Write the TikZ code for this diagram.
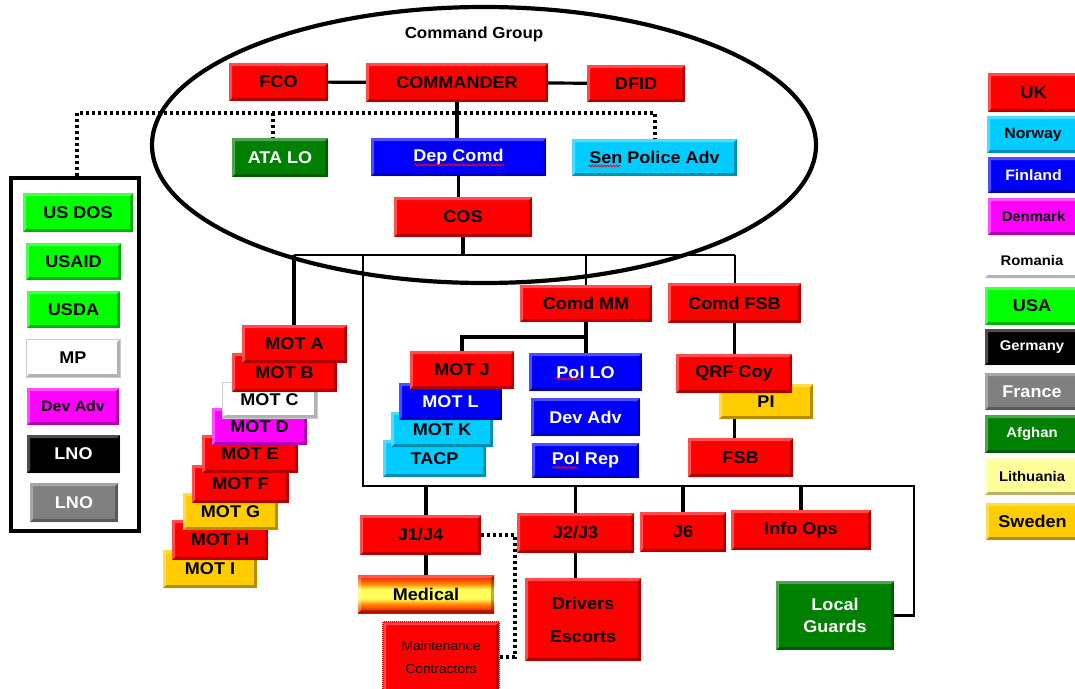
\documentclass[tikz,border=0pt]{standalone}
\usepackage{fontspec}
\setmainfont{Liberation Sans}[FakeStretch=1.06]
\usetikzlibrary{decorations.pathmorphing}
\pgfdeclarelayer{bg}
\pgfsetlayers{bg,main}
\definecolor{cred}{HTML}{FF0000}
\definecolor{cgreen}{HTML}{00FF00}
\definecolor{cdgreen}{HTML}{008000}
\definecolor{cblue}{HTML}{0000FF}
\definecolor{ccyan}{HTML}{00CCFF}
\definecolor{cmag}{HTML}{FF00FF}
\definecolor{corange}{HTML}{FFCC00}
\definecolor{clyel}{HTML}{FFFF99}
\definecolor{cgrey}{HTML}{808080}
\pgfdeclareverticalshading{medsh}{100bp}{color(0bp)=(red); color(25bp)=(red); color(36bp)=(orange); color(44bp)=(yellow!65); color(56bp)=(yellow!65); color(64bp)=(orange); color(75bp)=(red); color(100bp)=(red)}
\newcommand\obox[7]{\node[obx,#6,minimum width={(#4)-(#2)},minimum height={(#5)-(#3)}] (#1) at ({((#2)+(#4))/2},{((#3)+(#5))/2}) {#7};}
\tikzset{
  bevel/.style={path picture={
    \fill[black,opacity=.3] (path picture bounding box.south west) -- (path picture bounding box.south east) -- (path picture bounding box.north east) -- ([xshift=-3pt,yshift=-3pt]path picture bounding box.north east) -- ([xshift=-3pt,yshift=3pt]path picture bounding box.south east) -- ([xshift=3pt,yshift=3pt]path picture bounding box.south west) -- cycle;
    \fill[white,opacity=.3] (path picture bounding box.south west) -- (path picture bounding box.north west) -- (path picture bounding box.north east) -- ([xshift=-3pt,yshift=-3pt]path picture bounding box.north east) -- ([xshift=3pt,yshift=-3pt]path picture bounding box.north west) -- ([xshift=3pt,yshift=3pt]path picture bounding box.south west) -- cycle;
  }},
  obx/.style={rectangle, inner sep=0pt, outer sep=0pt, align=center, text=black, font=\bfseries\fontsize{17pt}{20pt}\selectfont, bevel},
  lf/.style={font=\bfseries\fontsize{#1pt}{#1pt}\selectfont},
  conn/.style={line width=3.2pt, black},
  bus/.style={line width=2.6pt, black},
  dotline/.style={line width=3.2pt, black, dash pattern=on 3pt off 3pt},
  squig/.style={red, line width=0.8pt, decorate, decoration={snake, segment length=3pt, amplitude=0.9pt}}
}
\begin{document}
\begin{tikzpicture}[x=1pt,y=-1pt]
\useasboundingbox (0,0) rectangle (1075,688);
% title
\node[font=\bfseries\fontsize{16pt}{18pt}\selectfont] (cgtitle) at (474,34) {Command Group};
% command group
\obox{fco}{229}{63}{328}{101}{fill=cred}{FCO}
\obox{cmdr}{366}{63}{548}{102}{fill=cred}{COMMANDER}
\obox{dfid}{587}{65}{685}{102}{fill=cred}{DFID}
\obox{atalo}{232}{138}{328}{177}{fill=cdgreen,text=white}{ATA LO}
\obox{depcomd}{371}{138}{546}{176}{fill=cblue,text=white}{Dep Comd}
\obox{senpol}{572}{139}{737}{176}{fill=ccyan}{Sen Police Adv}
\obox{cos}{394}{197}{532}{237}{fill=cred}{COS}
% left box
\node[draw, line width=3.5pt, minimum width=128pt, minimum height=353pt, inner sep=0pt] (lbox) at (75,354.5) {};
\obox{usdos}{23}{193}{133}{232}{fill=cgreen}{US DOS}
\obox{usaid}{26}{243}{121}{280}{fill=cgreen}{USAID}
\obox{usda}{27}{291}{120}{328}{fill=cgreen}{USDA}
\obox{mp}{26}{339}{120}{377}{fill=white,draw=gray!40}{MP}
\obox{devadvl}{27}{388}{119}{425}{fill=cmag,lf=15}{Dev Adv}
\obox{lnoa}{27}{435}{120}{473}{fill=black,text=white}{LNO}
\obox{lnob}{30}{483}{118}{522}{fill=cgrey,text=white}{LNO}
% MOT stack
\obox{moti}{163}{550}{257}{588}{fill=corange}{MOT I}
\obox{moth}{172}{520}{268}{560}{fill=cred}{MOT H}
\obox{motg}{183}{493}{278}{530}{fill=corange}{MOT G}
\obox{motf}{192}{465}{289}{503}{fill=cred}{MOT F}
\obox{mote}{202}{435}{298}{473}{fill=cred}{MOT E}
\obox{motd}{212}{408}{307}{445}{fill=cmag}{MOT D}
\obox{motc}{222}{382}{317}{418}{fill=white,draw=gray!40}{MOT C}
\obox{motb}{232}{353}{337}{392}{fill=cred}{MOT B}
\obox{mota}{242}{325}{347}{363}{fill=cred}{MOT A}
% centre
\obox{comdmm}{520}{285}{652}{322}{fill=cred}{Comd MM}
\obox{comdfsb}{668}{283}{801}{323}{fill=cred}{Comd FSB}
\obox{tacp}{383}{440}{486}{477}{fill=ccyan}{TACP}
\obox{motk}{391}{412}{493}{447}{fill=ccyan}{MOT K}
\obox{motl}{399}{383}{502}{420}{fill=cblue,text=white}{MOT L}
\obox{motj}{410}{351}{514}{389}{fill=cred}{MOT J}
\obox{pollo}{529}{353}{642}{391}{fill=cblue,text=white}{Pol LO}
\obox{devadvc}{531}{398}{640}{436}{fill=cblue,text=white}{Dev Adv}
\obox{polrep}{532}{443}{639}{478}{fill=cblue,text=white}{Pol Rep}
\obox{pi}{719}{384}{813}{419}{fill=corange}{PI}
\obox{qrf}{676}{354}{792}{393}{fill=cred}{QRF Coy}
\obox{fsb}{688}{438}{793}{477}{fill=cred}{FSB}
% bottom
\obox{j1j4}{360}{515}{481}{555}{fill=cred}{J1/J4}
\obox{j2j3}{517}{513}{634}{553}{fill=cred}{J2/J3}
\obox{j6}{640}{512}{726}{552}{fill=cred}{J6}
\obox{infoops}{731}{510}{871}{550}{fill=cred}{Info Ops}
\obox{medical}{358}{575}{494}{613}{shading=medsh}{Medical}
\obox{maint}{383}{622}{499}{692}{fill=cred,draw=cred,line width=1.5pt,dash pattern=on 1pt off 1pt,font=\fontsize{13pt}{23pt}\selectfont}{Maintenance\\Contractors}
\obox{drivers}{525}{578}{641}{661}{fill=cred,font=\bfseries\fontsize{17pt}{33pt}\selectfont}{Drivers\\Escorts}
\obox{localguards}{776}{581}{894}{650}{fill=cdgreen,text=white,font=\bfseries\fontsize{17pt}{22pt}\selectfont}{Local\\Guards}
% legend
\obox{lguk}{988}{73}{1079}{112}{fill=cred}{UK}
\obox{lgno}{987}{116}{1079}{153}{fill=ccyan,lf=15}{Norway}
\obox{lgfi}{988}{157}{1079}{193}{fill=cblue,text=white,lf=15}{Finland}
\obox{lgdk}{988}{198}{1079}{235}{fill=cmag,lf=14}{Denmark}
\obox{lgro}{985}{242}{1079}{278}{fill=white,lf=14}{Romania}
\obox{lgus}{985}{287}{1079}{325}{fill=cgreen}{USA}
\obox{lgde}{985}{329}{1079}{365}{fill=black,text=white,lf=14}{Germany}
\obox{lgfr}{985}{373}{1079}{410}{fill=cgrey,text=white}{France}
\obox{lgaf}{985}{415}{1079}{453}{fill=cdgreen,text=white,lf=14}{Afghan}
\obox{lglt}{985}{458}{1079}{495}{fill=clyel,lf=14}{Lithuania}
\obox{lgse}{986}{503}{1079}{540}{fill=corange}{Sweden}
% spell-check squiggles
\draw[squig] ([xshift=-44pt,yshift=-8pt]depcomd.center) -- ++(90,0);
\draw[squig] ([xshift=-66pt,yshift=-8.5pt]senpol.center) -- ++(32,0);
\draw[squig] ([xshift=-45pt,yshift=-7.5pt]comdmm.center) -- ++(32,0);
\draw[squig] ([xshift=-46pt,yshift=-7.5pt]comdfsb.center) -- ++(32,0);
\draw[squig] ([xshift=-30pt,yshift=-7pt]pollo.center) -- ++(25,0);
\draw[squig] ([xshift=-33pt,yshift=-7pt]polrep.center) -- ++(25,0);
% connectors
\begin{pgfonlayer}{bg}
\fill[white] (0,0) rectangle (1075,688);
\draw[line width=4.2pt] (484,145) ellipse [x radius=332, y radius=138];
\coordinate (bL) at (294,255);
\coordinate (bR) at (735,255);
\coordinate (fTL) at (363,255);
\coordinate (fBR) at (914,486);
\coordinate (mmj) at (586,337);
\coordinate (dl) at (77,113);
\coordinate (dr) at (655,113);
\coordinate (da) at (273,113);
\coordinate (dj) at (515,533);
\draw[conn] (fco) -- (cmdr);
\draw[conn] (cmdr) -- (dfid);
\draw[conn] (cmdr.south) -- (cmdr.south |- depcomd.north);
\draw[conn] (depcomd.south) -- (depcomd.south |- cos.north);
\draw[conn] (cos.south) -- (cos.south |- bL);
\draw[bus] (bL) -- (bR);
\draw[conn] (bL) -- (bL |- mota.north);
\draw[bus] (bR) -- (bR |- comdfsb.north);
\draw[bus] (comdmm.north |- bL) -- (comdmm.north);
\draw[bus] (fTL) |- (fBR) |- (localguards.east);
\draw[conn] (comdmm.south) -- (comdmm.south |- pollo.north);
\draw[conn] (comdmm.south |- mmj) -| (motj.north);
\draw[conn] (comdfsb.south) -- (comdfsb.south |- fsb.north);
\draw[conn] (medical.north |- fBR) -- (medical.north);
\draw[conn] (j2j3.north |- fBR) -- (j2j3.north);
\draw[conn] (j2j3.south) -- (j2j3.south |- drivers.north);
\draw[conn] (j6.north |- fBR) -- (j6.north);
\draw[conn] (infoops.north |- fBR) -- (infoops.north);
\draw[dotline] (dl |- lbox.north) -- (dl) -- (dr) -- (dr |- senpol.north);
\draw[dotline] (da) -- (da |- atalo.north);
\draw[dotline] (j1j4.east) -- (j1j4.east -| dj) |- (maint.east);
\end{pgfonlayer}
\end{tikzpicture}
\end{document}
